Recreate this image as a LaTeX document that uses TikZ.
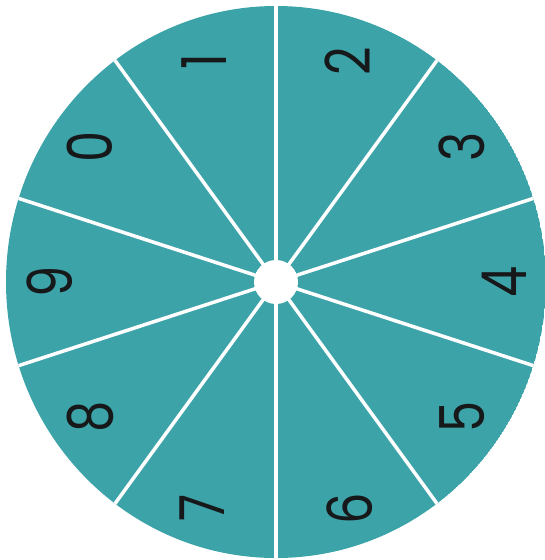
\documentclass[tikz,border=0pt]{standalone}
\usepackage{fontspec}
\setmainfont{Poppins}
\usetikzlibrary{calc}
\definecolor{wheelfill}{RGB}{60,163,169}
\definecolor{digitink}{RGB}{22,24,26}
\tikzset{
  wheel/.style={fill=wheelfill},
  spoke/.style={draw=white, line width=3.5pt},
  digit/.style={text=digitink, inner sep=0pt, rotate=90, xscale=0.8,
    font=\fontsize{62}{62}\selectfont}
}
\begin{document}
\begin{tikzpicture}[x=1pt,y=-1pt]
\useasboundingbox (0,0) rectangle (544,560);
\coordinate (c) at (276,282);
\begin{scope}
  \clip (c) ellipse [x radius=270, y radius=276];
  \fill[wheel] (c) ellipse [x radius=270, y radius=276];
  \foreach \a in {90,54,18,-18,-54,-90,-126,-162,162,126}{
    \coordinate (e\a) at ($(c)+(-\a:320)$);
    \draw[spoke] (c) -- (e\a);
  }
\end{scope}
\fill[white] (c) circle (22);
\node[digit] (d1) at ($(c)+(-108:232)$) {1};
\node[digit] (d2) at ($(c)+(-72:232)$) {2};
\node[digit] (d3) at ($(c)+(-36:230)$) {3};
\node[digit] (d4) at ($(c)+(0:228)$) {4};
\node[digit] (d5) at ($(c)+(36:230)$) {5};
\node[digit] (d6) at ($(c)+(72:238)$) {6};
\node[digit] (d7) at ($(c)+(108:238)$) {7};
\node[digit] (d8) at ($(c)+(144:230)$) {8};
\node[digit] (d9) at ($(c)+(180:226)$) {9};
\node[digit] (d0) at ($(c)+(-144:230)$) {0};
\end{tikzpicture}
\end{document}
